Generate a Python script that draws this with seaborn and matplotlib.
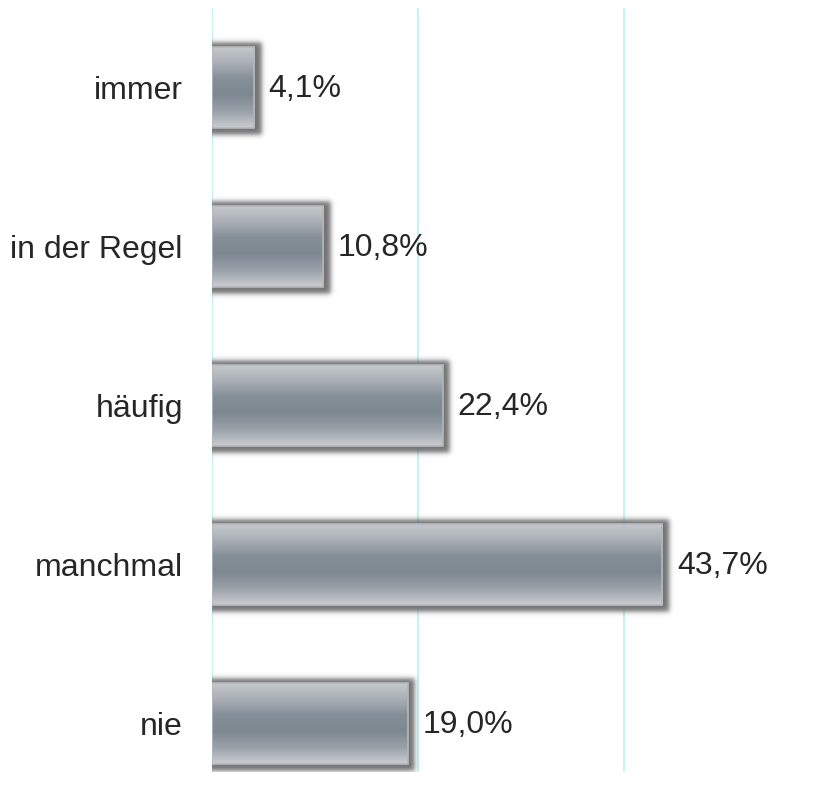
import numpy as np
import pandas as pd
import seaborn as sns
import matplotlib.pyplot as plt
from matplotlib.colors import LinearSegmentedColormap

categories = ["immer", "in der Regel", "häufig", "manchmal", "nie"]
values = [4.1, 10.8, 22.4, 43.7, 19.0]
value_labels = ["4,1%", "10,8%", "22,4%", "43,7%", "19,0%"]

sns.set_theme(style="white")
plt.rcParams["font.family"] = ["Liberation Sans", "DejaVu Sans"]

df = pd.DataFrame({"category": categories, "value": values})

W, H = 819, 801
fig = plt.figure(figsize=(W / 100, H / 100), dpi=100)
ax = fig.add_axes([212 / W, 1 - 772 / H, 1 - 212 / W, 764 / H])

XMAX, YLIM = 58.9, (4.305, -0.5)

sns.barplot(data=df, x="value", y="category", orient="h", width=0.51,
            color="#8a949c", ax=ax, zorder=3)

ax.set_xlim(0, XMAX)
ax.set_ylim(*YLIM)

# grid lines
for gx in [0, 20, 40]:
    ax.axvline(gx, color="#c4f4f4", lw=1.5, zorder=0)

# pixel size in data units
px_x = XMAX / (W - 212)
px_y = (YLIM[0] - YLIM[1]) / 764

grad_cmap = LinearSegmentedColormap.from_list(
    "metal", ["#c6cacd", "#aab0b6", "#858f98", "#7e8891", "#9aa2a9", "#c9cdd1"])
grad = np.linspace(0, 1, 256).reshape(-1, 1)


def soft(t, lo, hi, s):
    return 0.5 * (np.tanh((t - lo) / s) - np.tanh((t - hi) / s))


for patch in ax.patches:
    x0, y0 = patch.get_x(), patch.get_y()
    w, h = patch.get_width(), patch.get_height()

    # blurred drop shadow around the bar, shifted right/down
    m = 20
    sx = np.linspace(x0 - m * px_x, x0 + w + m * px_x, 300)
    sy = np.linspace(y0 - m * px_y, y0 + h + m * px_y, 160)
    fx = soft(sx, x0 - 4 * px_x, x0 + w + 7 * px_x, 2.8 * px_x)
    fy = soft(sy, y0 - 4 * px_y, y0 + h + 7 * px_y, 2.8 * px_y)
    alpha = 0.95 * np.outer(fy, fx)
    rgba = np.zeros(alpha.shape + (4,))
    rgba[..., :3] = 0.42
    rgba[..., 3] = alpha
    ax.imshow(rgba, aspect="auto", interpolation="bilinear",
              extent=(sx[0], sx[-1], sy[-1], sy[0]), zorder=2)

    im = ax.imshow(grad, cmap=grad_cmap, aspect="auto",
                   extent=(x0, x0 + w, y0 + h, y0), zorder=4)
    im.set_clip_path(patch)
    patch.set_edgecolor("#b4b8bc")
    patch.set_linewidth(1.2)
    patch.set_zorder(5)
    patch.set_facecolor("none")

ax.set_xlim(0, XMAX)
ax.set_ylim(*YLIM)

for i, (v, lab) in enumerate(zip(values, value_labels)):
    ax.text(v + 1.4, i + 0.01, lab, va="center", ha="left",
            fontsize=23, color="#262626", zorder=6)

ax.set_xlabel("")
ax.set_ylabel("")
ax.set_xticks([])
ax.tick_params(axis="y", length=0, pad=21, labelsize=23, labelcolor="#262626")
for s in ax.spines.values():
    s.set_visible(False)

fig.savefig("out.png", dpi=100)
